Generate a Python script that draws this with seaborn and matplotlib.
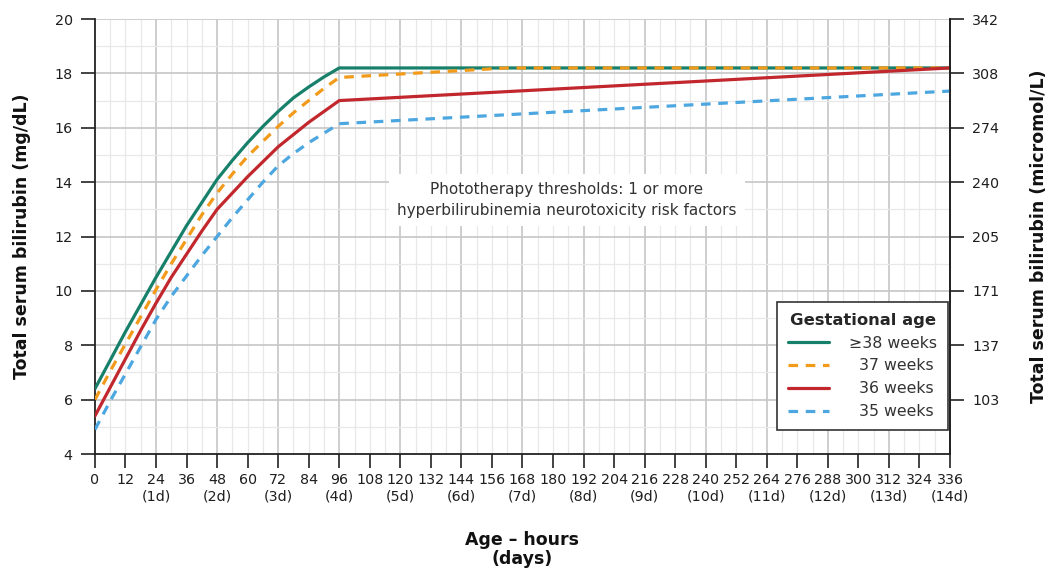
import matplotlib
matplotlib.use("Agg")
import matplotlib.pyplot as plt
import seaborn as sns
import pandas as pd
from matplotlib.lines import Line2D

# Phototherapy thresholds (mg/dL) by age in hours, per gestational age
rise_hours = [0, 6, 12, 18, 24, 30, 36, 42, 48, 54, 60, 66, 72, 78, 84, 90, 96]

hours_38 = rise_hours + [336]
tsb_38 = [6.4, 7.45, 8.5, 9.5, 10.5, 11.45, 12.4, 13.25, 14.1, 14.8, 15.45, 16.05,
          16.6, 17.1, 17.5, 17.87, 18.2, 18.2]

hours_37 = rise_hours + [162, 336]
tsb_37 = [6.0, 7.05, 8.05, 9.05, 10.05, 11.0, 11.9, 12.8, 13.6, 14.3, 14.95, 15.5,
          16.05, 16.55, 17.0, 17.45, 17.85, 18.2, 18.2]

hours_36 = rise_hours + [336]
tsb_36 = [5.4, 6.45, 7.5, 8.55, 9.55, 10.5, 11.35, 12.2, 13.0, 13.6, 14.2, 14.75,
          15.3, 15.75, 16.2, 16.6, 17.0, 18.2]

hours_35 = rise_hours + [336]
tsb_35 = [4.9, 5.95, 6.95, 7.95, 8.95, 9.8, 10.55, 11.3, 12.0, 12.7, 13.35, 14.0,
          14.6, 15.05, 15.45, 15.8, 16.15, 17.35]

groups = ["\u226538 weeks", "37 weeks", "36 weeks", "35 weeks"]
legend_labels = ["\u226538 weeks", "  37 weeks", "  36 weeks", "  35 weeks"]
colors = ["#17806a", "#f29a1a", "#c1272d", "#4ca6e0"]

x_ticks = list(range(0, 337, 12))
y_ticks = [4, 6, 8, 10, 12, 14, 16, 18, 20]
umol_ticks = [6, 8, 10, 12, 14, 16, 18, 20]
umol_labels = ["103", "137", "171", "205", "240", "274", "308", "342"]

frames = []
for g, h, v in zip(groups, [hours_38, hours_37, hours_36, hours_35],
                   [tsb_38, tsb_37, tsb_36, tsb_35]):
    frames.append(pd.DataFrame({"hours": h, "tsb": v, "ga": g}))
df = pd.concat(frames, ignore_index=True)

sns.set_style("white")
plt.rcParams["font.family"] = ["DejaVu Sans"]
text_color = "#1e1e1e"

fig = plt.figure(figsize=(10.48, 5.71), dpi=100)
ax = fig.add_axes([0.0906, 0.2049, 0.8159, 0.7618])

# background grid: light every 6 h / 1 mg/dL, darker every 24 h / 2 mg/dL
for x in range(6, 336, 6):
    major = x % 24 == 0
    ax.axvline(x, color="#c6c6c6" if major else "#e8e8e8", lw=1.2 if major else 0.9, zorder=0)
for y in range(5, 21):
    major = y % 2 == 0
    ax.axhline(y, color="#c6c6c6" if major else "#e8e8e8", lw=1.2 if major else 0.9, zorder=0)

palette = dict(zip(groups, colors))
dashes = {groups[0]: "", groups[1]: (3.0, 2.4), groups[2]: "", groups[3]: (3.0, 2.4)}
sns.lineplot(data=df, x="hours", y="tsb", hue="ga", style="ga", hue_order=groups,
             style_order=groups, palette=palette, dashes=dashes, lw=2.3,
             legend=False, ax=ax, zorder=3)

ax.set_xlim(0, 336)
ax.set_ylim(4, 20)
ax.set_xticks(x_ticks)
ax.set_xticklabels([f"{h}\n({h // 24}d)" if h % 24 == 0 and h > 0 else f"{h}\n" for h in x_ticks])
ax.set_yticks(y_ticks)
ax.tick_params(axis="both", direction="out", length=10, width=1.2, color="#222222",
               labelsize=10.3, labelcolor=text_color, bottom=True, left=True)
ax.tick_params(axis="x", pad=4)
ax.tick_params(axis="y", pad=6)
for s in ["left", "bottom", "right"]:
    ax.spines[s].set_color("#222222")
    ax.spines[s].set_linewidth(1.3)
ax.spines["top"].set_visible(False)

ax.set_xlabel("Age \u2013 hours\n(days)", fontsize=12.5, fontweight="bold", color="#111111",
              labelpad=20, linespacing=1.05)
ax.set_ylabel("Total serum bilirubin (mg/dL)", fontsize=12.5, fontweight="bold", color="#111111",
              labelpad=17)

ax2 = ax.twinx()
ax2.set_ylim(4, 20)
ax2.set_yticks(umol_ticks)
ax2.set_yticklabels(umol_labels)
ax2.tick_params(axis="y", direction="out", length=10, width=1.2, color="#222222",
                labelsize=10.3, labelcolor=text_color, right=True, pad=6)
for s in ["left", "bottom", "top"]:
    ax2.spines[s].set_visible(False)
ax2.spines["right"].set_color("#222222")
ax2.spines["right"].set_linewidth(1.3)
ax2.set_ylabel("Total serum bilirubin (micromol/L)", fontsize=12.5, fontweight="bold",
               color="#111111", labelpad=22)

ax.text(0.552, 0.584, "Phototherapy thresholds: 1 or more\nhyperbilirubinemia neurotoxicity risk factors",
        transform=ax.transAxes, ha="center", va="center", fontsize=11, color="#333333",
        linespacing=1.45, zorder=4,
        bbox=dict(boxstyle="square,pad=0.55", facecolor="white", edgecolor="none"))

handles = [Line2D([0], [0], color=c, lw=2.3, linestyle="-" if d == "" else (0, d))
           for c, d in zip(colors, [dashes[g] for g in groups])]
leg = ax2.legend(handles, legend_labels, title="Gestational age", loc="lower right",
                 bbox_to_anchor=(0.998, 0.055), borderaxespad=0.0, frameon=True,
                 fancybox=False, framealpha=1, edgecolor="#333333", fontsize=11.3,
                 title_fontsize=11.8, handlelength=2.6, handletextpad=1.3,
                 labelspacing=0.5, borderpad=0.7)
leg.get_title().set_fontweight("bold")
leg.get_frame().set_linewidth(1.2)
for t in leg.get_texts():
    t.set_color("#333333")

fig.savefig("out.png", dpi=100)
